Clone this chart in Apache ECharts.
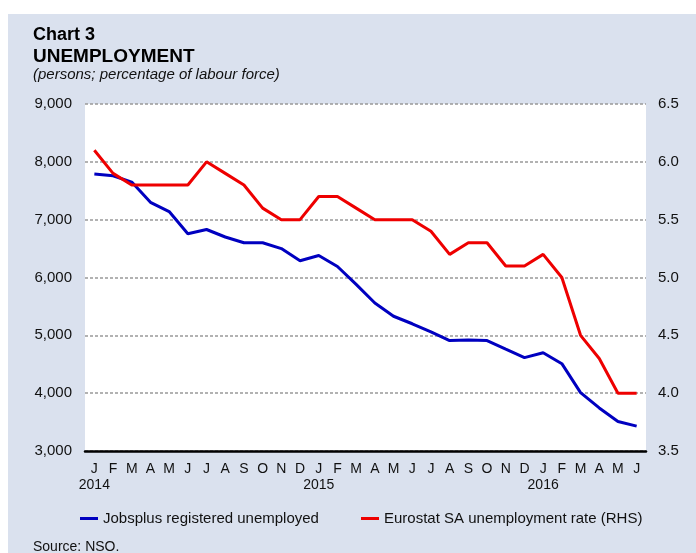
<!DOCTYPE html>
<html>
<head>
<meta charset="utf-8">
<script src="https://cdn.jsdelivr.net/npm/echarts@6/dist/echarts.min.js"></script>
<style>
  body { margin: 0; background: #fff; }
  #bg { position: absolute; left: 8px; top: 14px; width: 688px; height: 539px; background: #dae1ee; }
  #main { position: absolute; left: 0; top: 0; width: 696px; height: 553px; }
</style>
</head>
<body>
<div id="bg"></div>
<div id="main"></div>
<script>
var months = ['J','F','M','A','M','J','J','A','S','O','N','D',
              'J','F','M','A','M','J','J','A','S','O','N','D',
              'J','F','M','A','M','J'];
var yearLabels = {0: '2014', 12: '2015', 24: '2016'};

// Jobsplus registered unemployed (persons)
var jobsplus = [7790, 7760, 7650, 7300, 7140, 6755, 6830, 6700, 6600, 6600, 6500, 6290,
                6380, 6190, 5880, 5560, 5330, 5200, 5060, 4910, 4920, 4910, 4760, 4615,
                4700, 4510, 4010, 3745, 3510, 3430];
// Eurostat SA unemployment rate (%)
var eurostat = [6.1, 5.9, 5.8, 5.8, 5.8, 5.8, 6.0, 5.9, 5.8, 5.6, 5.5, 5.5,
                5.7, 5.7, 5.6, 5.5, 5.5, 5.5, 5.4, 5.2, 5.3, 5.3, 5.1, 5.1,
                5.2, 5.0, 4.5, 4.3, 4.0, 4.0];

var font = 'Liberation Sans, Arial, sans-serif';
var chartDom = document.getElementById('main');
var myChart = echarts.init(chartDom);
var option;

option = {
  backgroundColor: 'transparent',
  animation: false,
  textStyle: { fontFamily: font },
  title: [
    { text: 'Chart 3', left: 28, top: 21, textStyle: { fontFamily: font, fontSize: 18, fontWeight: 'bold', color: '#000' } },
    { text: 'UNEMPLOYMENT', left: 28, top: 42, textStyle: { fontFamily: font, fontSize: 19, fontWeight: 'bold', color: '#000' } },
    { text: '(persons; percentage of labour force)', left: 28, top: 62, textStyle: { fontFamily: font, fontSize: 15, fontStyle: 'italic', fontWeight: 'normal', color: '#111' } },
    { text: 'Source: NSO.', left: 28, top: 535, textStyle: { fontFamily: font, fontSize: 14, fontWeight: 'normal', color: '#111' } }
  ],
  legend: [
    {
      data: ['Jobsplus registered unemployed'],
      left: 75, top: 506,
      icon: 'rect', itemWidth: 18, itemHeight: 3,
      textStyle: { fontFamily: font, fontSize: 15, color: '#111' }
    },
    {
      data: ['Eurostat SA unemployment rate (RHS)'],
      left: 356, top: 506,
      icon: 'rect', itemWidth: 18, itemHeight: 3,
      textStyle: { fontFamily: font, fontSize: 15, color: '#111' }
    }
  ],
  grid: {
    left: 85, right: 50, top: 104, bottom: 102,
    show: true, backgroundColor: '#fff', borderWidth: 0
  },
  xAxis: {
    type: 'category',
    data: months,
    boundaryGap: true,
    axisLine: { lineStyle: { color: '#000', width: 2.5 } },
    axisTick: { show: false },
    axisLabel: {
      interval: 0, margin: 10, fontSize: 14, lineHeight: 16, color: '#111',
      formatter: function (v, i) { return v + '\n' + (yearLabels[i] || ''); }
    }
  },
  yAxis: [
    {
      type: 'value', min: 3000, max: 9000, interval: 1000,
      axisLine: { show: false }, axisTick: { show: false },
      axisLabel: {
        margin: 13, fontSize: 15, color: '#111',
        formatter: function (v) { return v.toLocaleString('en-US'); }
      },
      splitLine: { lineStyle: { color: '#999', type: [3, 2], width: 1.5 } }
    },
    {
      type: 'value', min: 3.5, max: 6.5, interval: 0.5,
      axisLine: { show: false }, axisTick: { show: false },
      axisLabel: {
        margin: 12, fontSize: 15, color: '#111',
        formatter: function (v) { return v.toFixed(1); }
      },
      splitLine: { show: false }
    }
  ],
  series: [
    {
      name: 'Jobsplus registered unemployed',
      type: 'line', yAxisIndex: 0,
      data: jobsplus,
      showSymbol: false, symbol: 'none',
      itemStyle: { color: '#0000c0' },
      lineStyle: { color: '#0000c0', width: 3 }
    },
    {
      name: 'Eurostat SA unemployment rate (RHS)',
      type: 'line', yAxisIndex: 1,
      data: eurostat,
      showSymbol: false, symbol: 'none',
      itemStyle: { color: '#ee0000' },
      lineStyle: { color: '#ee0000', width: 3 }
    }
  ]
};

option && myChart.setOption(option);
</script>
</body>
</html>
